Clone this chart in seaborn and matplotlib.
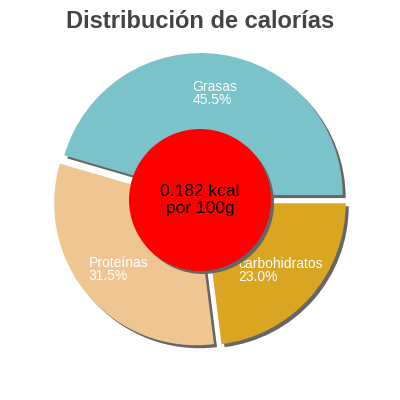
import matplotlib
matplotlib.use("Agg")
import matplotlib.pyplot as plt
import seaborn as sns
from matplotlib.patches import Wedge, Circle

sns.set_theme(style="white")
plt.rcParams['font.family'] = ['Liberation Sans', 'DejaVu Sans']

categories = ["Grasas", "Proteínas", "carbohidratos"]
values = [45.5, 31.5, 23.0]
colors = ["#7ac3cb", "#efc591", "#daa520"]
title = "Distribución de calorías"
center_text = "0.182 kcal\npor 100g"

fig = plt.figure(figsize=(4, 4), dpi=100)
ax = fig.add_axes([0, 0, 1, 1])

labels = [f"{c}\n{v:.1f}%" for c, v in zip(categories, values)]
wedges, texts = ax.pie(values, colors=colors, labels=labels, startangle=0,
                       counterclock=True, explode=[0.035] * 3,
                       labeldistance=0.72, radius=1.0,
                       textprops=dict(color="white", fontsize=10),
                       wedgeprops=dict(linewidth=0))
for t in texts:
    t.set_ha('center')
    t.set_va('center')
    t.set_multialignment('left')
    t.set_linespacing(0.9)

R = 142 / 200.0
lim = 1 / R
ax.set_xlim(-lim, lim)
ax.set_ylim(-lim, lim)
ax.set_aspect('equal')
ax.axis('off')

sh = 3 / 142.0
for w in wedges:
    cx, cy = w.center
    s = Wedge((cx + sh, cy - sh), w.r, w.theta1, w.theta2,
              facecolor="#666666", edgecolor="none", zorder=w.get_zorder() - 0.1)
    ax.add_patch(s)

rc = 71 / 142.0
ax.add_patch(Circle((sh, -sh), rc, facecolor="#666666", edgecolor="none", zorder=5))
ax.add_patch(Circle((0, 0), rc, facecolor="#ff0000", edgecolor="none", zorder=6))
ax.text(0, 0, center_text, ha='center', va='center', fontsize=12.5,
        color='black', zorder=7, linespacing=1.15)

fig.text(0.5, 1 - 22 / 400, title, ha='center', va='center',
         fontsize=17, fontweight='bold', color='#444444')

fig.savefig("out.png", dpi=100)
